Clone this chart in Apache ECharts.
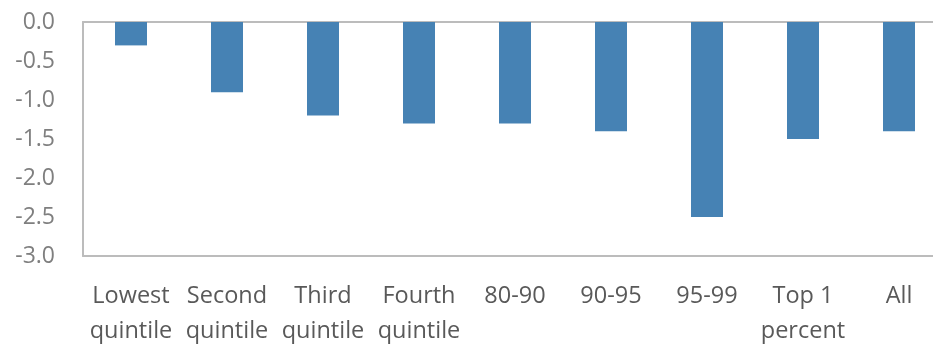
<!DOCTYPE html>
<html>
<head>
<meta charset="utf-8">
<script src="https://cdn.jsdelivr.net/npm/echarts@6/dist/echarts.min.js"></script>
<style>
  html, body { margin: 0; padding: 0; background: #fff; }
  #chart { width: 933px; height: 345px; }
</style>
</head>
<body>
<div id="chart"></div>
<script>
// Income groups along the horizontal axis
var categories = ['Lowest\nquintile', 'Second\nquintile', 'Third\nquintile', 'Fourth\nquintile',
                  '80-90', '90-95', '95-99', 'Top 1\npercent', 'All'];
// Change for each group
var values = [-0.3, -0.9, -1.2, -1.3, -1.3, -1.4, -2.5, -1.5, -1.4];

var axisGrey = '#bcbcbc';
var chart = echarts.init(document.getElementById('chart'));
chart.setOption({
  animation: false,
  // the plot runs slightly past the right edge of the canvas
  grid: {
    left: 83, width: 864, top: 22, height: 234,
    containLabel: false,
    outerBoundsMode: 'none'
  },
  xAxis: [
    {
      type: 'category',
      data: categories,
      position: 'bottom',
      axisLine: { show: true, onZero: false, lineStyle: { color: axisGrey, width: 2 } },
      axisTick: { show: false },
      axisLabel: {
        interval: 0,
        margin: 23,
        color: '#595959',
        fontFamily: 'Open Sans',
        fontSize: 23.5,
        lineHeight: 35
      }
    },
    {
      // zero line along the top of the plot
      type: 'category',
      data: categories,
      position: 'top',
      axisLine: { show: true, onZero: false, lineStyle: { color: axisGrey, width: 2 } },
      axisTick: { show: false },
      axisLabel: { show: false }
    }
  ],
  yAxis: {
    type: 'value',
    min: -3,
    max: 0,
    interval: 0.5,
    axisLine: { show: true, lineStyle: { color: axisGrey, width: 2 } },
    axisTick: { show: false },
    splitLine: { show: false },
    axisLabel: {
      margin: 28,
      color: '#7f7f7f',
      fontFamily: 'Open Sans',
      fontSize: 23,
      formatter: function (v) { return v.toFixed(1); }
    }
  },
  series: [{
    type: 'bar',
    xAxisIndex: 0,
    data: values,
    barWidth: 32,
    itemStyle: { color: '#4682b4' }
  }]
});
</script>
</body>
</html>
